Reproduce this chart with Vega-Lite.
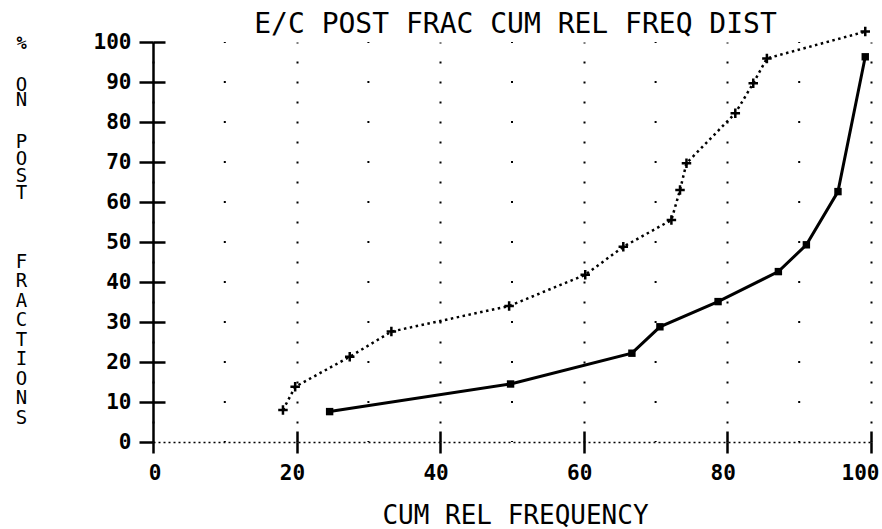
{
  "$schema": "https://vega.github.io/schema/vega-lite/v6.json",
  "width": 718,
  "height": 400,
  "autosize": {"type": "none"},
  "padding": {"left": 153, "top": 42, "right": 11, "bottom": 87},
  "background": "white",
  "config": {"view": {"stroke": null}, "font": "DejaVu Sans Mono"},
  "datasets": {
    "curves": [
      {"series": "A", "x": 18.1, "y": 8.0},
      {"series": "A", "x": 19.8, "y": 13.8},
      {"series": "A", "x": 27.4, "y": 21.3},
      {"series": "A", "x": 33.2, "y": 27.6},
      {"series": "A", "x": 49.6, "y": 34.0},
      {"series": "A", "x": 60.2, "y": 41.8},
      {"series": "A", "x": 65.5, "y": 48.8},
      {"series": "A", "x": 72.2, "y": 55.5},
      {"series": "A", "x": 73.4, "y": 63.0},
      {"series": "A", "x": 74.3, "y": 69.7},
      {"series": "A", "x": 81.1, "y": 82.2},
      {"series": "A", "x": 83.6, "y": 89.7},
      {"series": "A", "x": 85.5, "y": 95.9},
      {"series": "A", "x": 99.2, "y": 102.6},
      {"series": "B", "x": 24.6, "y": 7.6},
      {"series": "B", "x": 49.8, "y": 14.5},
      {"series": "B", "x": 66.7, "y": 22.2},
      {"series": "B", "x": 70.6, "y": 28.8},
      {"series": "B", "x": 78.7, "y": 35.1},
      {"series": "B", "x": 87.1, "y": 42.6},
      {"series": "B", "x": 91.0, "y": 49.3},
      {"series": "B", "x": 95.4, "y": 62.6},
      {"series": "B", "x": 99.2, "y": 96.3}
    ],
    "minor": [{"x": 10}, {"x": 30}, {"x": 50}, {"x": 70}, {"x": 90}]
  },
  "layer": [
    {
      "data": {"name": "minor"},
      "mark": {"type": "rule", "strokeDash": [2, 38], "strokeDashOffset": 1, "strokeWidth": 2, "color": "black"},
      "encoding": {
        "x": {
          "field": "x", "type": "quantitative",
          "scale": {"domain": [0, 100], "nice": false, "zero": false},
          "axis": {
            "orient": "top",
            "title": "E/C POST FRAC CUM REL FREQ DIST",
            "labels": false, "ticks": false, "domain": false, "grid": false,
            "titleFont": "DejaVu Sans Mono", "titleFontSize": 28, "titleFontWeight": "normal", "titleColor": "black",
            "titleX": 362, "titleY": -10, "titleBaseline": "alphabetic", "titleAlign": "center", "titleAnchor": null
          }
        },
        "y": {
          "datum": 0, "type": "quantitative",
          "scale": {"domain": [0, 100], "nice": false, "zero": false},
          "axis": {
            "orient": "left",
            "title": ["O", "N"],
            "labels": false, "ticks": false, "domain": false, "grid": false,
            "titleFont": "DejaVu Sans Mono", "titleFontSize": 19, "titleFontWeight": "normal", "titleColor": "black",
            "titleAngle": 0, "titleX": -132, "titleY": 33, "titleAlign": "center", "titleBaseline": "top",
            "titleLineHeight": 15.5, "titleAnchor": null
          }
        },
        "y2": {"datum": 100}
      }
    },
    {
      "data": {"name": "curves"},
      "transform": [{"filter": "datum.series === 'A'"}],
      "mark": {"type": "line", "strokeDash": [2.5, 3.5], "strokeWidth": 2.5, "color": "black"},
      "encoding": {
        "x": {
          "field": "x", "type": "quantitative",
          "scale": {"domain": [0, 100], "nice": false, "zero": false},
          "axis": {
            "orient": "bottom",
            "values": [0, 20, 40, 60, 80, 100],
            "title": "CUM REL FREQUENCY",
            "grid": true, "gridDash": [2, 18], "gridDashOffset": 1, "gridWidth": 2, "gridColor": "black", "gridOpacity": 1,
            "domain": true, "domainDash": [2, 3], "domainWidth": 1.5, "domainColor": "black",
            "ticks": true, "tickSize": 11, "tickWidth": 2.5, "tickColor": "black",
            "labelFont": "DejaVu Sans Mono", "labelFontSize": 21, "labelFontWeight": "bold", "labelColor": "black",
            "labelAlign": "right", "labelOffset": 8, "labelPadding": 9, "labelFlush": false, "labelOverlap": false,
            "titleFont": "DejaVu Sans Mono", "titleFontSize": 26, "titleFontWeight": "normal", "titleColor": "black",
            "titleX": 362, "titleY": 81, "titleBaseline": "alphabetic", "titleAlign": "center", "titleAnchor": null
          }
        },
        "y": {
          "field": "y", "type": "quantitative",
          "scale": {"domain": [0, 100], "nice": false, "zero": false},
          "axis": {
            "orient": "left",
            "values": [0, 10, 20, 30, 40, 50, 60, 70, 80, 90, 100],
            "title": ["P", "O", "S", "T"],
            "grid": false,
            "domain": true, "domainColor": "black", "domainWidth": 2.5,
            "ticks": true, "tickSize": 14, "tickWidth": 2.5, "tickColor": "black",
            "labelFont": "DejaVu Sans Mono", "labelFontSize": 21, "labelFontWeight": "bold", "labelColor": "black",
            "labelPadding": 8, "labelFlush": false, "labelOverlap": false,
            "titleFont": "DejaVu Sans Mono", "titleFontSize": 19, "titleFontWeight": "normal", "titleColor": "black",
            "titleAngle": 0, "titleX": -132, "titleY": 90, "titleAlign": "center", "titleBaseline": "top",
            "titleLineHeight": 17, "titleAnchor": null
          }
        }
      }
    },
    {
      "data": {"name": "curves"},
      "transform": [{"filter": "datum.series === 'A'"}],
      "mark": {"type": "point", "shape": "M-1,0H1M0,-1V1", "filled": false, "size": 90, "strokeWidth": 2.5, "color": "black", "opacity": 1},
      "encoding": {
        "x": {"field": "x", "type": "quantitative", "axis": null},
        "y": {
          "field": "y", "type": "quantitative",
          "axis": {
            "orient": "left",
            "title": "%",
            "labels": false, "ticks": false, "domain": false, "grid": false,
            "titleFont": "DejaVu Sans Mono", "titleFontSize": 17, "titleFontWeight": "bold", "titleColor": "black",
            "titleAngle": 0, "titleX": -132, "titleY": -7, "titleAlign": "center", "titleBaseline": "top",
            "titleAnchor": null
          }
        }
      }
    },
    {
      "data": {"name": "curves"},
      "transform": [{"filter": "datum.series === 'B'"}],
      "mark": {"type": "line", "strokeWidth": 3, "color": "black"},
      "encoding": {
        "x": {
          "field": "x", "type": "quantitative",
          "axis": {
            "orient": "bottom", "offset": -11,
            "values": [20, 40, 60, 80, 100],
            "title": null, "labels": false, "domain": false, "grid": false,
            "ticks": true, "tickSize": 11, "tickWidth": 2.5, "tickColor": "black"
          }
        },
        "y": {
          "field": "y", "type": "quantitative",
          "axis": {
            "orient": "left", "offset": -12,
            "values": [10, 20, 30, 40, 50, 60, 70, 80, 90, 100],
            "title": ["F", "R", "A", "C", "T", "I", "O", "N", "S"],
            "labels": false, "domain": false, "grid": false,
            "ticks": true, "tickSize": 12, "tickWidth": 2.5, "tickColor": "black",
            "titleFont": "DejaVu Sans Mono", "titleFontSize": 19, "titleFontWeight": "normal", "titleColor": "black",
            "titleAngle": 0, "titleX": -144, "titleY": 210, "titleAlign": "center", "titleBaseline": "top",
            "titleLineHeight": 19.5, "titleAnchor": null
          }
        }
      }
    },
    {
      "data": {"name": "curves"},
      "transform": [{"filter": "datum.series === 'B'"}],
      "mark": {"type": "square", "filled": true, "size": 55, "color": "black", "opacity": 1},
      "encoding": {
        "x": {"field": "x", "type": "quantitative", "axis": null},
        "y": {"field": "y", "type": "quantitative", "axis": null}
      }
    }
  ],
  "resolve": {"axis": {"x": "independent", "y": "independent"}}
}
